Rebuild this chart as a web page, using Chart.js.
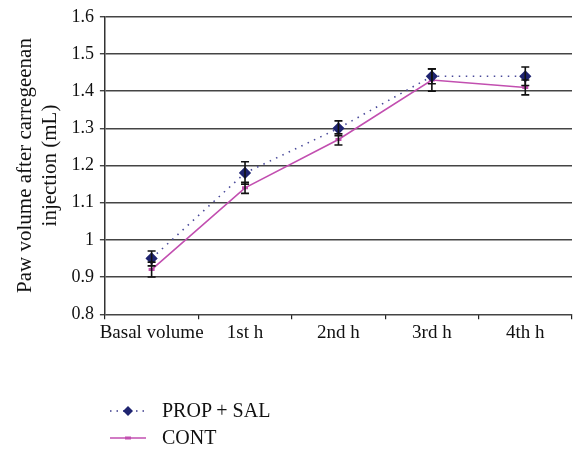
<!DOCTYPE html>
<html><head><meta charset="utf-8">
<script src="https://cdn.jsdelivr.net/npm/chart.js@4/dist/chart.umd.min.js"></script>
<style>
html,body{margin:0;padding:0;background:#fff;}
#wrap{position:relative;width:579px;height:450px;}
#legend{position:absolute;left:108px;top:397px;font-family:"Liberation Serif",serif;font-size:20px;color:#111;}
#legend div{display:flex;align-items:center;height:27px;}
#legend svg{margin-right:14px;}
</style></head><body>
<div id="wrap"><canvas id="c" width="579" height="450"></canvas>
<div id="legend">
<div><svg width="40" height="12"><line x1="2" y1="6" x2="38" y2="6" stroke="#3a3a8a" stroke-width="1.5" stroke-dasharray="1.5,5"/><path d="M20 1 L25 6 L20 11 L15 6 Z" fill="#1f2470"/></svg><span>PROP + SAL</span></div>
<div><svg width="40" height="12"><line x1="2" y1="6" x2="38" y2="6" stroke="#c24fb0" stroke-width="1.5"/><line x1="17" y1="6" x2="23" y2="6" stroke="#c24fb0" stroke-width="3"/></svg><span>CONT</span></div>
</div></div>
<script>
const categories = ["Basal volume", "1st h", "2nd h", "3rd h", "4th h"];
const propSal = [0.95, 1.18, 1.30, 1.44, 1.44];
const propSalErr = [0.02, 0.03, 0.02, 0.02, 0.025];
const cont = [0.92, 1.14, 1.27, 1.43, 1.41];
const contErr = [0.02, 0.015, 0.015, 0.03, 0.02];
const yTitle = ["Paw volume after carregeenan", "injection (mL)"];

const errs = [propSalErr, contErr];
const errorBars = {
  id: 'errorBars',
  afterDatasetsDraw(chart) {
    const ctx = chart.ctx, y = chart.scales.y;
    ctx.save();
    ctx.strokeStyle = '#111';
    ctx.lineWidth = 1.6;
    chart.data.datasets.forEach((ds, di) => {
      const meta = chart.getDatasetMeta(di);
      meta.data.forEach((pt, i) => {
        const v = ds.data[i], e = errs[di][i];
        const x = pt.x, y1 = y.getPixelForValue(v + e), y2 = y.getPixelForValue(v - e);
        ctx.beginPath();
        ctx.moveTo(x, y1); ctx.lineTo(x, y2);
        ctx.moveTo(x - 4, y1); ctx.lineTo(x + 4, y1);
        ctx.moveTo(x - 4, y2); ctx.lineTo(x + 4, y2);
        ctx.stroke();
      });
    });
    ctx.restore();
  }
};

new Chart(document.getElementById('c'), {
  type: 'line',
  data: {
    labels: categories,
    datasets: [
      { label: 'PROP + SAL', data: propSal, borderColor: '#4a4a9a', borderWidth: 1.6, borderDash: [1.5, 5.5],
        pointStyle: 'rectRot', pointRadius: 5, pointBackgroundColor: '#1f2470', pointBorderColor: '#1f2470', tension: 0 },
      { label: 'CONT', data: cont, borderColor: '#c24fb0', borderWidth: 1.6,
        pointStyle: 'line', pointRadius: 3, pointBorderWidth: 3, pointBorderColor: '#c24fb0', tension: 0 }
    ]
  },
  plugins: [errorBars],
  options: {
    responsive: false, animation: false,
    layout: { padding: { top: 16, right: 0, bottom: 104, left: 9 } },
    plugins: { legend: { display: false }, tooltip: { enabled: false } },
    scales: {
      x: {
        offset: true,
        grid: { display: true, drawOnChartArea: false, offset: true, color: '#222', lineWidth: 1.2, tickLength: 5 },
        border: { display: false },
        ticks: { color: '#111', font: { family: 'Liberation Serif', size: 19 }, padding: 2, maxRotation: 0, autoSkip: false }
      },
      y: {
        min: 0.8, max: 1.6,
        grid: { color: '#444', lineWidth: 1.4, tickLength: 5 },
        border: { color: '#333', width: 1.5 },
        ticks: { stepSize: 0.1, color: '#111', font: { family: 'Liberation Serif', size: 18 }, padding: 6,
          callback: v => { const r = Math.round(v * 10) / 10; return r === 1 ? '1' : r.toFixed(1); } },
        title: { display: true, text: yTitle, color: '#111', font: { family: 'Liberation Serif', size: 21, lineHeight: 1.2 }, padding: { bottom: 2 } }
      }
    }
  }
});
</script></body></html>
